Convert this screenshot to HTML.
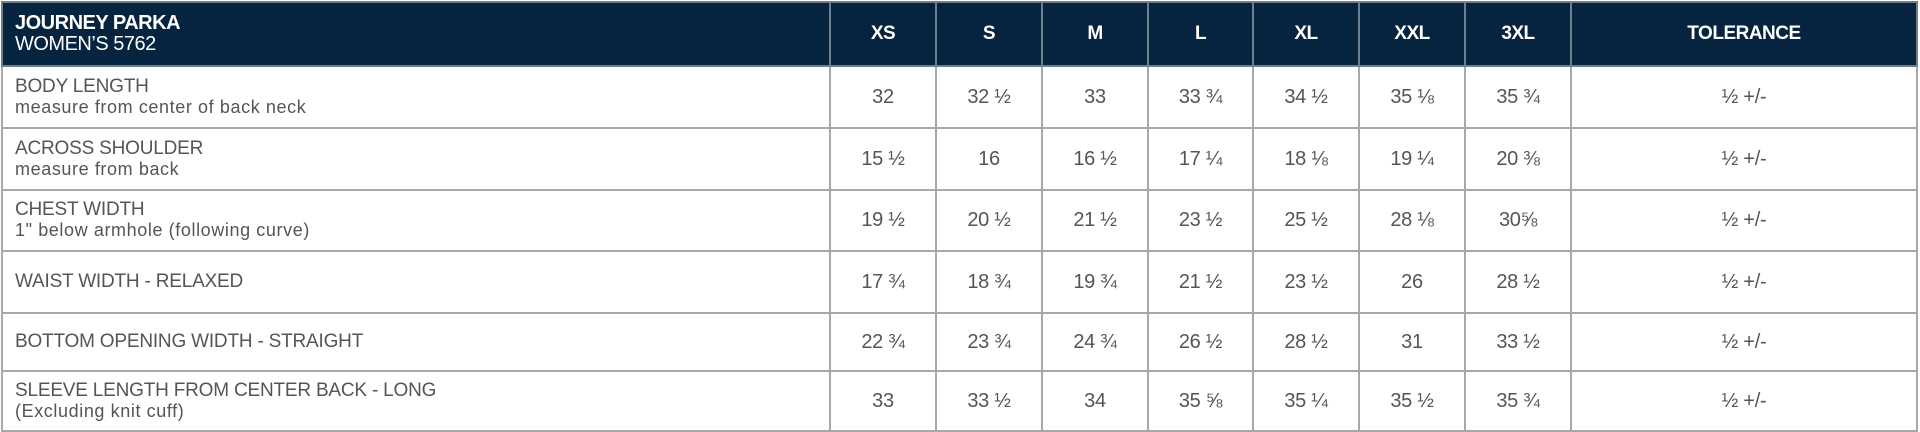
<!DOCTYPE html>
<html><head><meta charset="utf-8"><style>
html,body{margin:0;padding:0;background:#fff;width:1920px;height:432px;overflow:hidden}
table{position:absolute;left:1px;top:1px;border-collapse:collapse;table-layout:fixed;font-family:"Liberation Sans",sans-serif;color:#555}
td,th{border:2px solid #a8a8a8;padding:0;text-align:center;font-weight:normal;font-size:20px;letter-spacing:-0.3px}
th{background:#062340;color:#fff;font-weight:bold;font-size:19px;border-color:#6e7f90;letter-spacing:-0.5px}
th.t{text-align:left;padding-left:12px;line-height:21px}
th.t b{font-size:20px}
th.t span{font-weight:normal;font-size:20px}
td.l{text-align:left;padding-left:12px;font-size:19px;line-height:20px;letter-spacing:-0.2px}
td.l small{font-size:18px;letter-spacing:0.6px}
</style></head><body>
<table>
<colgroup><col style="width:828px"><col style="width:106px"><col style="width:106px"><col style="width:106px"><col style="width:105px"><col style="width:106px"><col style="width:106px"><col style="width:106px"><col style="width:346px"></colgroup>
<tr style="height:64px"><th class="t"><b>JOURNEY PARKA</b><br><span>WOMEN’S 5762</span></th><th>XS</th><th>S</th><th>M</th><th>L</th><th>XL</th><th>XXL</th><th>3XL</th><th>TOLERANCE</th></tr>
<tr style="height:62px"><td class="l">BODY LENGTH<br><small>measure from center of back neck</small></td><td>32</td><td>32 ½</td><td>33</td><td>33 ¾</td><td>34 ½</td><td>35 ⅛</td><td>35 ¾</td><td>½ +/-</td></tr>
<tr style="height:62px"><td class="l">ACROSS SHOULDER<br><small>measure from back</small></td><td>15 ½</td><td>16</td><td>16 ½</td><td>17 ¼</td><td>18 ⅛</td><td>19 ¼</td><td>20 ⅜</td><td>½ +/-</td></tr>
<tr style="height:61px"><td class="l">CHEST WIDTH<br><small>1" below armhole (following curve)</small></td><td>19 ½</td><td>20 ½</td><td>21 ½</td><td>23 ½</td><td>25 ½</td><td>28 ⅛</td><td>30⅝</td><td>½ +/-</td></tr>
<tr style="height:62px"><td class="l">WAIST WIDTH - RELAXED</td><td>17 ¾</td><td>18 ¾</td><td>19 ¾</td><td>21 ½</td><td>23 ½</td><td>26</td><td>28 ½</td><td>½ +/-</td></tr>
<tr style="height:58px"><td class="l">BOTTOM OPENING WIDTH - STRAIGHT</td><td>22 ¾</td><td>23 ¾</td><td>24 ¾</td><td>26 ½</td><td>28 ½</td><td>31</td><td>33 ½</td><td>½ +/-</td></tr>
<tr style="height:60px"><td class="l">SLEEVE LENGTH FROM CENTER BACK - LONG<br><small>(Excluding knit cuff)</small></td><td>33</td><td>33 ½</td><td>34</td><td>35 ⅝</td><td>35 ¼</td><td>35 ½</td><td>35 ¾</td><td>½ +/-</td></tr>
</table>
</body></html>
